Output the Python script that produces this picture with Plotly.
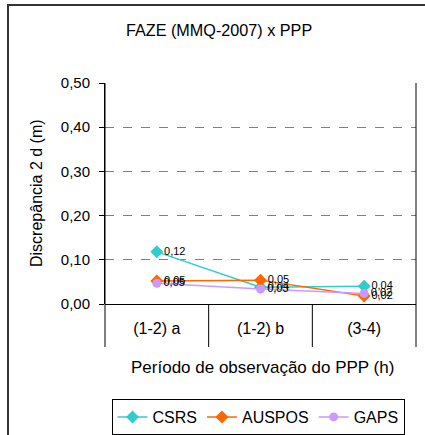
import plotly.graph_objects as go

categories = ["(1-2) a", "(1-2) b", "(3-4)"]
csrs = [0.118, 0.038, 0.040]
auspos = [0.052, 0.054, 0.018]
gaps = [0.047, 0.034, 0.024]
y_ticks = [0.0, 0.1, 0.2, 0.3, 0.4, 0.5]

series = [
    ("CSRS", csrs, "#33CCCC", "diamond"),
    ("AUSPOS", auspos, "#FF6600", "diamond"),
    ("GAPS", gaps, "#CC99FF", "circle"),
]

FONT = "Liberation Sans, Arial, sans-serif"

def fmt(v):
    return f"{v:.2f}".replace(".", ",")

fig = go.Figure()
for name, vals, color, sym in series:
    fig.add_trace(go.Scatter(
        x=list(range(len(categories))), y=vals, name=name,
        mode="lines+markers+text",
        line=dict(color=color, width=1.5),
        marker=dict(color=color, symbol=sym, size=10 if sym == "diamond" else 9),
        text=[fmt(v) for v in vals], textposition="middle right",
        textfont=dict(size=11, color="#000000", family=FONT),
        cliponaxis=False,
    ))

L, R, T, B = 105, 416, 83, 304
W, H = 425, 435
pw, ph = R - L, B - T

def px(x):
    return (x - L) / pw

def py(y):
    return (B - y) / ph

shapes = []
# outer chart border
shapes.append(dict(type="rect", xref="paper", yref="paper",
                   x0=px(8), x1=px(440), y0=py(450), y1=py(5),
                   line=dict(color="#333333", width=2), layer="below"))
# category separators and side lines
for xv in [0, 1/3, 2/3, 1]:
    shapes.append(dict(type="line", xref="paper", yref="paper",
                       x0=xv, x1=xv, y0=py(347), y1=1 if xv in (0, 1) else 0,
                       line=dict(color="#000000", width=1)))

annotations = [
    dict(text="FAZE (MMQ-2007) x PPP", xref="paper", yref="paper",
         x=px(219), y=py(30), showarrow=False, xanchor="center", yanchor="middle",
         font=dict(size=16.2, family=FONT, color="#000000")),
    dict(text="Discrepância 2 d (m)", xref="paper", yref="paper",
         x=px(36), y=py(193), showarrow=False, textangle=-90,
         xanchor="center", yanchor="middle",
         font=dict(size=16, family=FONT, color="#000000")),
    dict(text="Período de observação do PPP (h)", xref="paper", yref="paper",
         x=px(262), y=py(367), showarrow=False, xanchor="center", yanchor="middle",
         font=dict(size=17, family=FONT, color="#000000")),
]

fig.update_layout(
    width=W, height=H,
    margin=dict(l=L, r=W - R, t=T, b=H - B, pad=0, autoexpand=False),
    paper_bgcolor="white", plot_bgcolor="white",
    separators=",.",
    font=dict(family=FONT, color="#000000"),
    showlegend=True,
    legend=dict(orientation="h", x=px(258), xanchor="center",
                y=py(399), yanchor="top",
                bordercolor="#000000", borderwidth=1,
                font=dict(size=16, family=FONT), itemwidth=30,
                tracegroupgap=0),
    xaxis=dict(range=[-0.5, 2.5], tickvals=[0, 1, 2], ticktext=categories,
               showgrid=False, zeroline=False, showline=False, ticks="",
               ticklabelstandoff=13, automargin=False,
               tickfont=dict(size=16, family=FONT)),
    yaxis=dict(range=[0, 0.5], tickvals=y_ticks,
               tickformat=".2f", showgrid=True, gridcolor="#808080",
               griddash="dash", gridwidth=1,
               zeroline=True, zerolinecolor="#000000", zerolinewidth=1,
               showline=True, linecolor="#000000", linewidth=1,
               ticks="outside", ticklen=5, tickcolor="#000000",
               ticklabelstandoff=6, automargin=False,
               tickfont=dict(size=15, family=FONT)),
    shapes=shapes, annotations=annotations,
)

fig.write_html("out.html", config={"displayModeBar": False},
               post_script="document.body.style.margin='0';document.body.style.overflow='hidden';")
